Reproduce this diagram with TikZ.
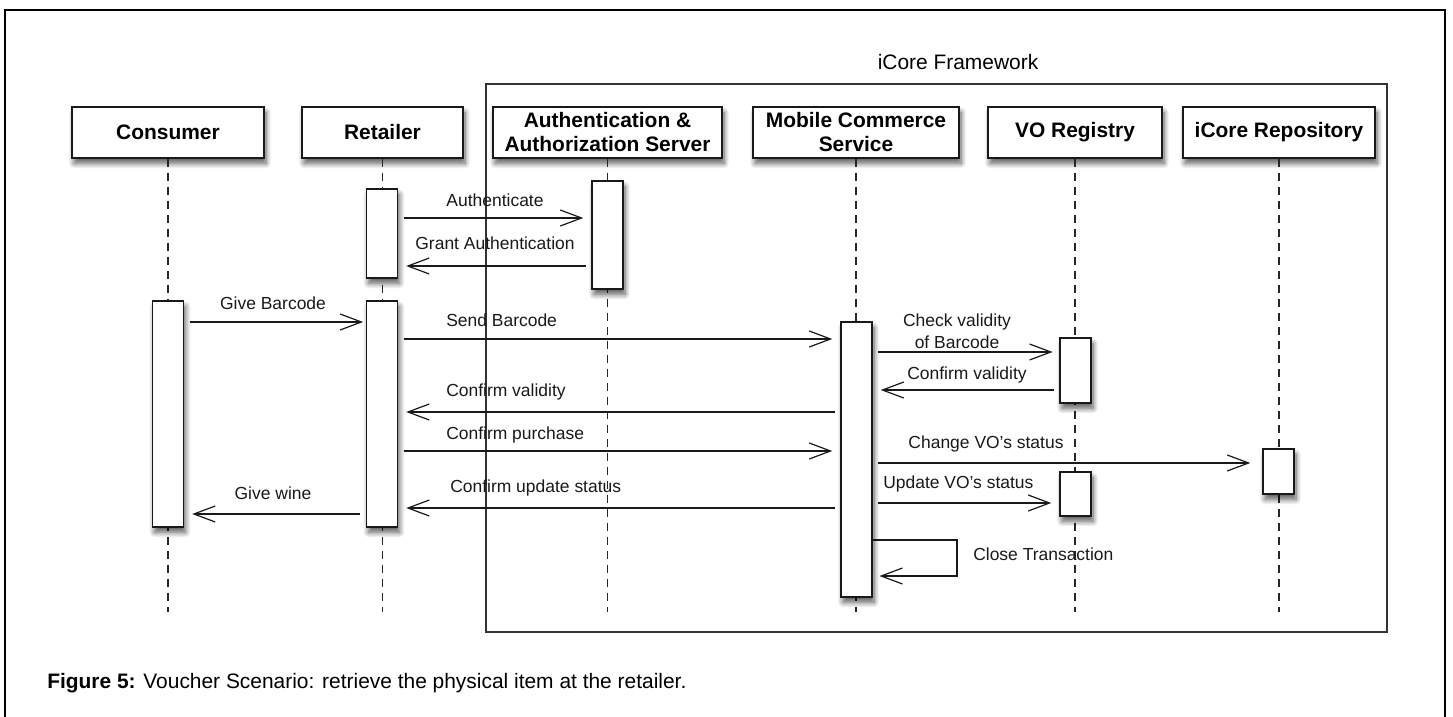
\documentclass[tikz,border=0pt]{standalone}
\usepackage{fontspec}
\setmainfont{Liberation Sans}
\usetikzlibrary{arrows.meta,shadows.blur}

\tikzset{
  lifehead/.style={draw=black!90, line width=1.1pt, fill=white, align=center, inner sep=0pt,
    minimum height=38.25pt, font=\fontsize{15.7}{18}\selectfont\bfseries,
    blur shadow={shadow xshift=1.5pt, shadow yshift=-4pt, shadow blur radius=4pt, shadow blur steps=8, shadow opacity=65}},
  actbox/.style={draw=black!90, line width=1.1pt, fill=white, inner sep=0pt, minimum width=23.25pt,
    blur shadow={shadow xshift=1.5pt, shadow yshift=-4pt, shadow blur radius=4pt, shadow blur steps=8, shadow opacity=65}},
  lifeline/.style={dash pattern=on 6pt off 4.5pt, line width=1pt, black!85},
  msg/.style={line width=0.9pt, black!90, -{Straight Barb[length=16pt,width=12pt,line width=0.9pt]},
    shorten >=6pt, shorten <=4pt},
  msglbl/.style={font=\fontsize{13.1}{16.5}\selectfont, inner sep=0pt, text=black!90, align=center},
}

\begin{document}
\begin{tikzpicture}[x=0.75pt, y=-0.75pt]
        \useasboundingbox (0,0) rectangle (1453,717);
        % Outer frame (open at the bottom)
        \draw [line width=2pt] (5,717) -- (5,10) -- (1445,10) -- (1445,717);
        % iCore Framework box
        \node [font=\fontsize{15.7}{18}\selectfont] (fwtitle) at (958,62) {iCore Framework};
        \draw [line width=1.1pt, black!80] (486,84) rectangle (1387,632);
        % Lifeline heads
        \node [lifehead, minimum width=144pt]    (cons) at (168,132.5)  {Consumer};
        \node [lifehead, minimum width=120.75pt] (ret)  at (382.5,132.5) {Retailer};
        \node [lifehead, minimum width=171.75pt] (auth) at (607.5,132.5) {Authentication \&\\Authorization Server};
        \node [lifehead, minimum width=154.5pt]  (mcs)  at (856,132.5)  {Mobile Commerce\\Service};
        \node [lifehead, minimum width=130.5pt]  (vor)  at (1075,132.5) {VO Registry};
        \node [lifehead, minimum width=144pt]    (repo) at (1279,132.5) {iCore Repository};
        % Lifelines
        \foreach \n in {cons,ret,auth,mcs,vor,repo}
            \draw [lifeline] (\n.south) -- (\n.south |- 0,612);
        % Activation boxes
        \node [actbox, minimum height=169.5pt]  (consact) at (168,414)    {};
        \node [actbox, minimum height=66.75pt]  (retact1) at (382,233.5)  {};
        \node [actbox, minimum height=169.5pt]  (retact2) at (382,414)    {};
        \node [actbox, minimum height=81pt]     (authact) at (607.5,235)  {};
        \node [actbox, minimum height=206.25pt] (mcsact)  at (856.5,459.5) {};
        \node [actbox, minimum height=48.75pt]  (voract1) at (1075.5,370.5) {};
        \node [actbox, minimum height=33pt]     (voract2) at (1075.5,494) {};
        \node [actbox, minimum height=33.75pt]  (repoact) at (1278.5,471.5) {};
        % Messages
        \draw [msg] (retact1.east |- 0,218) -- (authact.west |- 0,218);
        \node [msglbl] (lauth) at (495,200) {Authenticate};
        \draw [msg] (authact.west |- 0,266) -- (retact1.east |- 0,266);
        \node [msglbl] (lgrant) at (495,243) {Grant Authentication};
        \draw [msg, shorten >=2pt] (consact.east |- 0,322) -- (retact2.west |- 0,322);
        \node [msglbl] (lgiveb) at (273,303) {Give Barcode};
        \draw [msg] (retact2.east |- 0,339) -- (mcsact.west |- 0,339);
        \node [msglbl, anchor=west] (lsendb) at (446,320) {Send Barcode};
        \draw [msg, shorten >=5pt] (mcsact.east |- 0,352) -- (voract1.west |- 0,352);
        \node [msglbl] (lcheck) at (957,331) {Check validity\\of Barcode};
        \draw [msg] (voract1.west |- 0,390) -- (mcsact.east |- 0,390);
        \node [msglbl] (lconfv1) at (967,375) {Confirm validity};
        \draw [msg] (mcsact.west |- 0,412) -- (retact2.east |- 0,412);
        \node [msglbl, anchor=west] (lconfv2) at (446,392) {Confirm validity};
        \draw [msg] (retact2.east |- 0,451) -- (mcsact.west |- 0,451);
        \node [msglbl, anchor=west] (lconfp) at (446,435) {Confirm purchase};
        \draw [msg, shorten >=9pt] (mcsact.east |- 0,463) -- (repoact.west |- 0,463);
        \node [msglbl] (lchange) at (986,444) {Change VO's status};
        \draw [msg] (mcsact.east |- 0,503) -- (voract2.west |- 0,503);
        \node [msglbl, anchor=west] (lupdate) at (883,484) {Update VO's status};
        \draw [msg] (mcsact.west |- 0,508) -- (retact2.east |- 0,508);
        \node [msglbl, anchor=west] (lconfu) at (450,488) {Confirm update status};
        \draw [msg] (retact2.west |- 0,514) -- (consact.east |- 0,514);
        \node [msglbl] (lgivew) at (273,493) {Give wine};
        % Self call
        \coordinate (selfa) at (957,540);
        \coordinate (selfb) at (957,576);
        \draw [msg, shorten <=0pt, shorten >=5pt] (mcsact.east |- selfa) -- (selfa) -- (selfb) -- (mcsact.east |- selfb);
        \node [msglbl, anchor=west] (lclose) at (973,554) {Close Transaction};
        % Caption
        \node [anchor=west, inner sep=0pt, font=\fontsize{15.7}{18}\selectfont] (caption) at (47,683)
            {\textbf{Figure 5:} Voucher Scenario: retrieve the physical item at the retailer.};
    \end{tikzpicture}
\end{document}
